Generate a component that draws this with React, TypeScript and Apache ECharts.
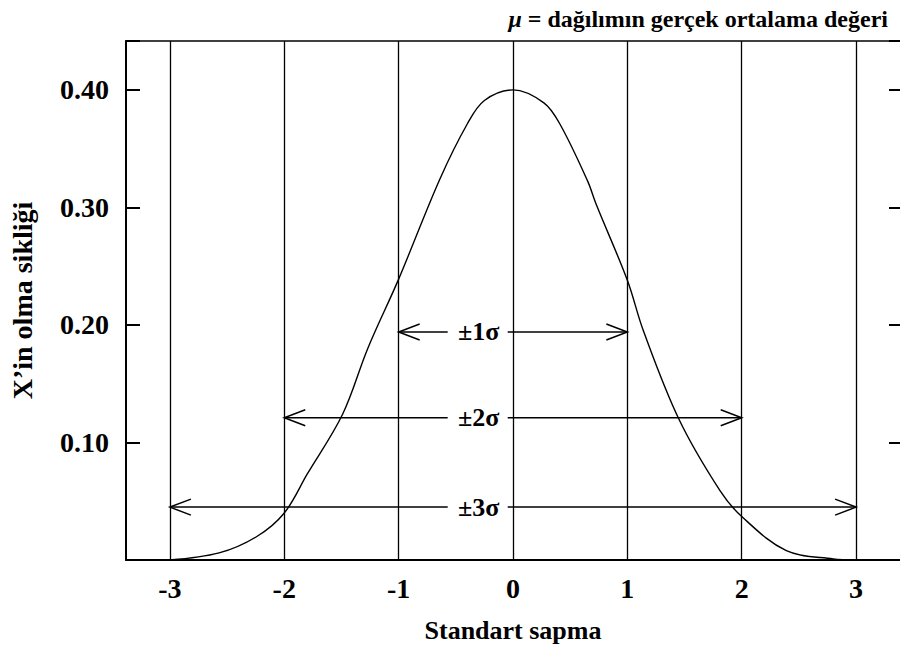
import React, { useEffect, useRef } from "react";
import * as echarts from "echarts";

// Tick positions / labels
const xTicks = [-3, -2, -1, 0, 1, 2, 3];
const yTicks = [0.1, 0.2, 0.3, 0.4];

// Curve (standard deviations vs. frequency)
const curveX = [-3, -2.57, -2.24, -2, -1.8, -1.49, -1.27, -1, -0.64, -0.4, -0.25, 0, 0.27, 0.41, 0.65, 0.73, 1, 1.14, 1.45, 1.81, 2, 2.39, 2.8, 3];
const curveY = [0, 0.006, 0.02, 0.04, 0.073, 0.124, 0.18, 0.239, 0.324, 0.371, 0.391, 0.4, 0.389, 0.371, 0.323, 0.302, 0.238, 0.195, 0.12, 0.059, 0.037, 0.008, 0.001, 0];

// Sigma range arrows
const sigmaSpans = [1, 2, 3];
const sigmaLevels = [0.194, 0.121, 0.045];
const sigmaLabels = ["±1σ", "±2σ", "±3σ"];
const sigmaLabelX = -0.3;

const titleText = "{mu|μ} = dağılımın gerçek ortalama değeri";
const xName = "Standart sapma";
const yName = "X’in olma sikliği";

const FONT = "'Liberation Serif', 'Times New Roman', serif";

export default function App() {
  const ref = useRef<HTMLDivElement>(null);

  useEffect(() => {
    if (!ref.current) return;
    const chart = echarts.init(ref.current, undefined, { renderer: "svg" });
    const xMin = -3.384;
    const xMax = 3.384;
    const yMax = 0.4416;

    const option: any = {
      animation: false,
      backgroundColor: "#fff",
      title: {
        text: titleText,
        right: 7,
        top: 2,
        textStyle: {
          fontFamily: FONT,
          fontWeight: "bold",
          fontSize: 24,
          color: "#000",
          rich: {
            mu: { fontFamily: FONT, fontWeight: "bold", fontStyle: "italic", fontSize: 24, color: "#000" },
          },
        },
      },
      grid: { left: 126, top: 41, width: 775, height: 519 },
      xAxis: [
        {
          type: "value",
          min: xMin,
          max: xMax,
          position: "bottom",
          axisLine: { show: true, onZero: false, lineStyle: { color: "#000", width: 2 } },
          axisTick: { show: false },
          splitLine: { show: false },
          axisLabel: {
            customValues: xTicks,
            formatter: (v: number) => String(Math.round(v)),
            color: "#000",
            fontFamily: FONT,
            fontWeight: "bold",
            fontSize: 28,
            margin: 14,
          },
          name: xName,
          nameLocation: "middle",
          nameGap: 57,
          nameTextStyle: { color: "#000", fontFamily: FONT, fontWeight: "bold", fontSize: 26 },
        },
        {
          type: "value",
          min: xMin,
          max: xMax,
          position: "top",
          axisLine: { show: true, onZero: false, lineStyle: { color: "#000", width: 1.5 } },
          axisTick: { show: false },
          axisLabel: { show: false },
          splitLine: { show: false },
        },
      ],
      yAxis: [
        {
          type: "value",
          min: 0,
          max: yMax,
          interval: 0.1,
          position: "left",
          axisLine: { show: true, onZero: false, lineStyle: { color: "#000", width: 2 } },
          axisTick: { show: true, inside: true, length: 14, lineStyle: { color: "#000", width: 2 } },
          splitLine: { show: false },
          axisLabel: {
            formatter: (v: number) => {
              const r = Math.round(v * 100) / 100;
              return yTicks.some((t) => Math.abs(t - r) < 1e-6) ? r.toFixed(2) : "";
            },
            color: "#000",
            fontFamily: FONT,
            fontWeight: "bold",
            fontSize: 28,
            margin: 17,
          },
          name: yName,
          nameLocation: "middle",
          nameRotate: 90,
          nameGap: 90,
          nameTextStyle: { color: "#000", fontFamily: FONT, fontWeight: "bold", fontSize: 28 },
        },
        {
          type: "value",
          min: 0,
          max: yMax,
          interval: 0.1,
          position: "right",
          axisLine: { show: false, onZero: false },
          axisTick: { show: true, inside: true, length: 11, lineStyle: { color: "#000", width: 2 } },
          axisLabel: { show: false },
          splitLine: { show: false },
        },
      ],
      series: [
        {
          type: "line",
          xAxisIndex: 0,
          yAxisIndex: 0,
          data: curveX.map((x, i) => [x, curveY[i]]),
          smooth: 0.35,
          symbol: "none",
          lineStyle: { color: "#000", width: 1.4 },
          silent: true,
          markLine: {
            silent: true,
            symbol: ["none", "none"],
            label: { show: false },
            lineStyle: { color: "#000", width: 1.3, type: "solid" },
            emphasis: { disabled: true },
            data: xTicks.map((x) => ({ xAxis: x })),
          },
        },
        {
          type: "custom",
          xAxisIndex: 0,
          yAxisIndex: 0,
          silent: true,
          data: sigmaSpans.map((s, i) => [s, sigmaLevels[i], i]),
          renderItem: (params: any, api: any) => {
            const span = api.value(0);
            const lvl = api.value(1);
            const idx = api.value(2);
            const L = api.coord([-span, lvl]);
            const R = api.coord([span, lvl]);
            const C = api.coord([sigmaLabelX, lvl]);
            const y = L[1];
            const ls = { stroke: "#000", lineWidth: 1.5, fill: "none" };
            return {
              type: "group",
              children: [
                { type: "line", shape: { x1: L[0], y1: y, x2: C[0] - 31, y2: y }, style: ls },
                { type: "line", shape: { x1: C[0] + 29, y1: y, x2: R[0], y2: y }, style: ls },
                { type: "polyline", shape: { points: [[L[0] + 21, y - 8], [L[0], y], [L[0] + 21, y + 8]] }, style: ls },
                { type: "polyline", shape: { points: [[R[0] - 21, y - 8], [R[0], y], [R[0] - 21, y + 8]] }, style: ls },
                {
                  type: "text",
                  x: C[0],
                  y: y,
                  style: {
                    text: sigmaLabels[idx],
                    textAlign: "center",
                    textVerticalAlign: "middle",
                    fill: "#000",
                    font: `bold 26px ${FONT}`,
                  },
                },
              ],
            };
          },
        },
      ],
    };

    chart.setOption(option);
    return () => chart.dispose();
  }, []);

  return (
    <div
      ref={ref}
      style={{ position: "fixed", left: 0, top: 0, width: 900, height: 652, background: "#fff" }}
    />
  );
}
